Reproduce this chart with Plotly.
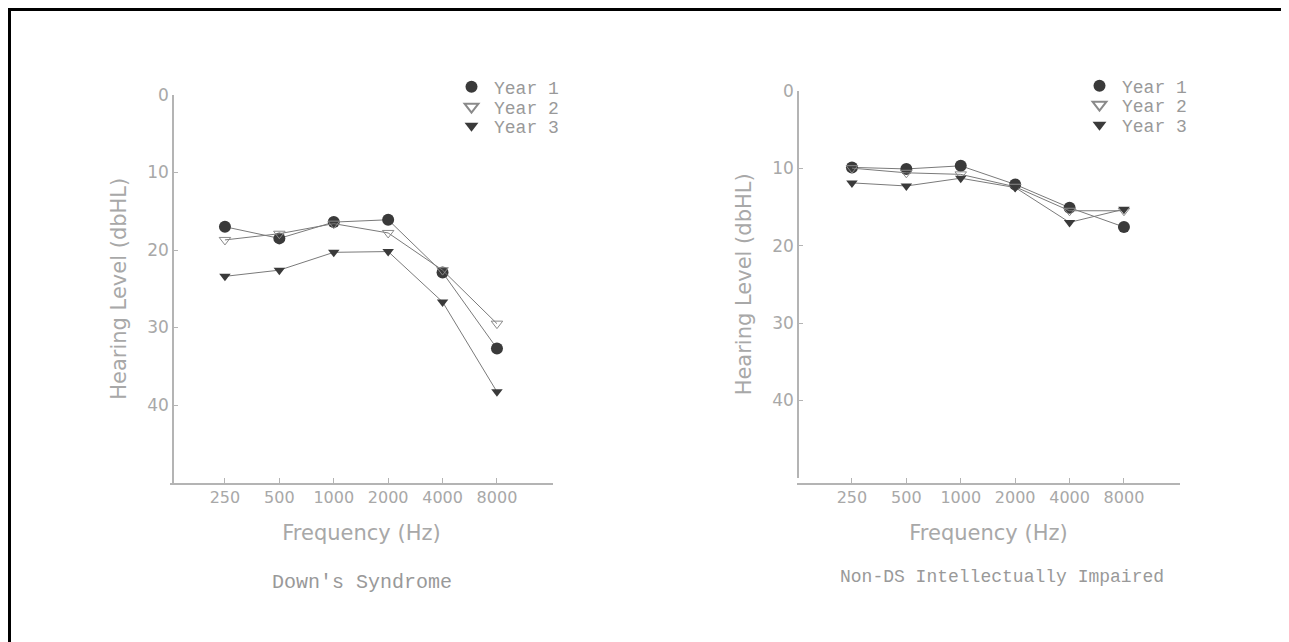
import plotly.graph_objects as go

W, H = 1289, 642
OFF = 8  # page body margin offset

freqs = ["250", "500", "1000", "2000", "4000", "8000"]
years = ["Year 1", "Year 2", "Year 3"]

ds_year1 = [17.0, 18.5, 16.4, 16.1, 22.9, 32.7]
ds_year2 = [18.7, 17.9, 16.6, 17.8, 22.6, 29.5]
ds_year3 = [23.4, 22.6, 20.3, 20.2, 26.7, 38.3]

non_year1 = [9.9, 10.1, 9.7, 12.1, 15.1, 17.6]
non_year2 = [10.0, 10.6, 10.8, 12.4, 15.5, 15.5]
non_year3 = [11.9, 12.3, 11.3, 12.5, 17.0, 15.3]

y_ticks = [0, 10, 20, 30, 40]
panel_titles = ["Down's Syndrome", "Non-DS Intellectually Impaired"]
x_title = "Frequency (Hz)"
y_title = "Hearing Level (dbHL)"


def fx(px):
    return (px - OFF) / W


def fy(py):
    return 1 - (py - OFF) / H


line_col = "#7a7a7a"
dark = "#3a3a3a"
text_col = "#a8a8a8"
axis_col = "#b4b4b4"

styles = [
    dict(symbol="circle", size=12, color=dark, line=dict(width=0)),
    dict(symbol="triangle-down-open", size=10, color="#8a8a8a", line=dict(width=1)),
    dict(symbol="triangle-down", size=10, color=dark, line=dict(width=0)),
]

fig = go.Figure()

panels = [
    ("x", "y", [ds_year1, ds_year2, ds_year3], ["legend", "legend2", "legend3"]),
    ("x2", "y2", [non_year1, non_year2, non_year3], ["legend4", "legend5", "legend6"]),
]
for xa, ya, series, legs in panels:
    for name, vals, st in zip(years, series, styles):
        fig.add_trace(go.Scatter(
            x=freqs, y=vals, xaxis=xa, yaxis=ya, mode="lines+markers",
            line=dict(color=line_col, width=1),
            marker=st, name=name, showlegend=False,
        ))
    for name, st, leg in zip(years, styles, legs):
        fig.add_trace(go.Scatter(
            x=[None], y=[None], xaxis=xa, yaxis=ya, mode="markers",
            marker=st, name=name, legend=leg, showlegend=True,
        ))

tick_font = dict(family="DejaVu Sans", size=16, color=text_col)
title_font = dict(family="DejaVu Sans", size=21, color=text_col)


def xaxis_cfg(x0, x1):
    return dict(domain=[fx(x0), fx(x1)], type="category", range=[-1.01, 6.03],
                showline=True, linecolor=axis_col, linewidth=1.5,
                ticks="inside", ticklen=5, tickcolor=axis_col,
                showgrid=False, zeroline=False, tickfont=tick_font,
                automargin=False,
                title=dict(text=x_title, font=title_font, standoff=19))


def yaxis_cfg(top, bottom, xpos):
    return dict(domain=[fy(bottom), fy(top)], anchor="free", position=fx(xpos),
                range=[50, 0],
                showline=True, linecolor=axis_col, linewidth=1.5,
                ticks="inside", ticklen=4, tickcolor=axis_col,
                tickvals=y_ticks, showgrid=False, zeroline=False,
                automargin=False,
                tickfont=dict(family="DejaVu Sans", size=17, color=text_col),
                title=dict(text=y_title, font=title_font, standoff=14))


legend_font = dict(family="Liberation Mono", size=18, color="#999999")


def legend_cfg(mx, my):
    return dict(x=fx(mx - 23), y=fy(my), xanchor="left", yanchor="middle",
                font=legend_font, bgcolor="rgba(0,0,0,0)", itemsizing="constant",
                itemwidth=35)


fig.update_layout(
    width=W, height=H,
    margin=dict(l=0, r=0, t=0, b=0, autoexpand=False),
    paper_bgcolor="white", plot_bgcolor="white",
    xaxis=xaxis_cfg(170, 553),
    yaxis=yaxis_cfg(95, 482.5, 173),
    xaxis2=xaxis_cfg(797, 1180),
    yaxis2=yaxis_cfg(90.7, 478, 798),
    legend=legend_cfg(472, 87),
    legend2=legend_cfg(472, 107),
    legend3=legend_cfg(472, 126),
    legend4=legend_cfg(1100, 86),
    legend5=legend_cfg(1100, 105),
    legend6=legend_cfg(1100, 125),
    shapes=[
        dict(type="line", xref="paper", yref="paper", x0=fx(9.5), x1=fx(9.5),
             y0=0, y1=fy(9), line=dict(color="black", width=3)),
        dict(type="line", xref="paper", yref="paper", x0=fx(8), x1=fx(1289),
             y0=fy(9.5), y1=fy(9.5), line=dict(color="black", width=3)),
        dict(type="line", xref="paper", yref="paper", x0=fx(1286.5), x1=fx(1286.5),
             y0=0, y1=fy(9), line=dict(color="black", width=3)),
    ],
    annotations=[
        dict(text=panel_titles[0], xref="paper", yref="paper", x=fx(362), y=fy(582),
             xanchor="center", yanchor="middle",
             showarrow=False, font=dict(family="Liberation Mono", size=20, color="#999999")),
        dict(text=panel_titles[1], xref="paper", yref="paper", x=fx(1002), y=fy(577),
             xanchor="center", yanchor="middle",
             showarrow=False, font=dict(family="Liberation Mono", size=18, color="#999999")),
    ],
)

fig.write_html("out.html")
